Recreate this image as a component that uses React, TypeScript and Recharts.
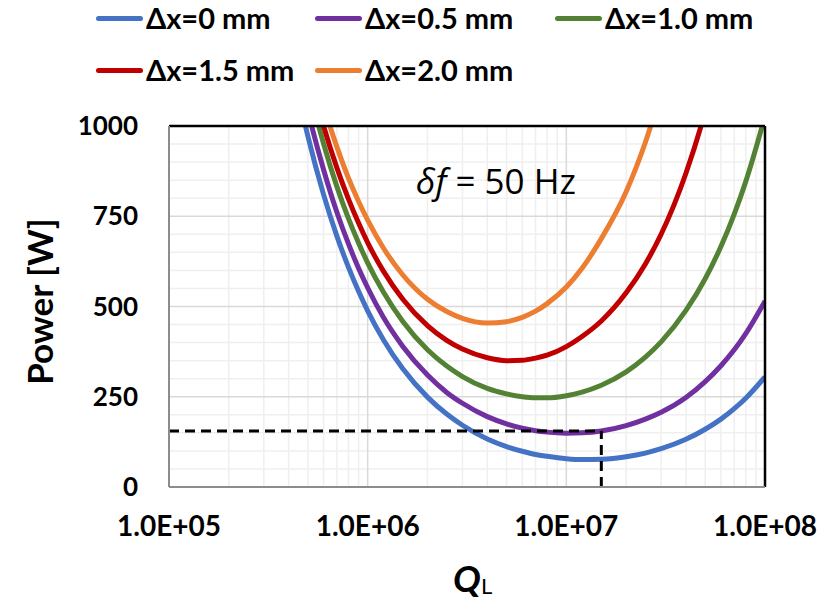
import React from 'react';
import { LineChart, Line, XAxis, YAxis, ReferenceLine } from 'recharts';

// Loaded quality factor Q_L (x values)
const qL = [4e5, 5e5, 6e5, 7e5, 8e5, 9e5, 1e6, 1.2e6, 1.5e6, 2e6, 2.5e6, 3e6, 4e6, 5e6, 6e6, 7e6, 8e6, 1e7, 1.2e7, 1.5e7, 2e7, 2.5e7, 3e7, 4e7, 5e7, 6e7, 7e7, 8e7, 1e8];
// Power [W] for each offset
const powerDx0 = [1213, 972, 810, 695, 609, 542, 488, 408, 328, 249, 202, 171, 133, 112, 99, 90, 85, 78.5, 76, 77, 84, 94, 106, 132, 160, 188, 217, 246, 305];
const powerDx05 = [1288, 1042, 879, 761, 674, 606, 552, 470, 390, 310, 262, 232, 195, 175, 163, 156, 152, 149, 150, 155, 170, 188, 207, 248, 292, 336, 380, 425, 515];
const powerDx10 = [1366, 1117, 951, 832, 744, 676, 621, 540, 459, 380, 335, 306, 273, 258, 250, 247, 247, 253, 263, 282, 319, 360, 402, 489, 577, 666, 756, 846, 1027];
const powerDx15 = [1409, 1164, 1000, 884, 798, 731, 677, 598, 521, 447, 406, 382, 358, 350, 351, 357, 365, 389, 417, 460, 538, 618, 700, 869, 1040, 1211, null, null, null];
const powerDx20 = [1462, 1218, 1056, 942, 856, 791, 739, 662, 588, 520, 486, 467, 454, 458, 470, 487, 508, 554, 606, 688, 818, 955, 1093, null, null, null, null, null, null];

const seriesNames = ['Δx=0 mm', 'Δx=0.5 mm', 'Δx=1.0 mm', 'Δx=1.5 mm', 'Δx=2.0 mm'];
const seriesKeys = ['dx0', 'dx05', 'dx10', 'dx15', 'dx20'];
const seriesColors = ['#4472C4', '#7030A0', '#548235', '#C00000', '#ED7D31'];
const seriesValues = [powerDx0, powerDx05, powerDx10, powerDx15, powerDx20];

const xTicks = [1e5, 1e6, 1e7, 1e8];
const xTickLabels = ['1.0E+05', '1.0E+06', '1.0E+07', '1.0E+08'];
const yTicks = [0, 250, 500, 750, 1000];
const xMinorGrid = [2e5, 3e5, 4e5, 5e5, 6e5, 7e5, 8e5, 9e5, 2e6, 3e6, 4e6, 5e6, 6e6, 7e6, 8e6, 9e6, 2e7, 3e7, 4e7, 5e7, 6e7, 7e7, 8e7, 9e7];
const xMajorGrid = [1e6, 1e7];
const yMinorGrid = [50, 100, 150, 200, 300, 350, 400, 450, 550, 600, 650, 700, 800, 850, 900, 950];
const yMajorGrid = [250, 500, 750];

const markerQ = 1.5e7;
const markerPower = 155;

const data = qL.map((q, i) => {
  const row: any = { q };
  seriesKeys.forEach((k, j) => {
    row[k] = seriesValues[j][i];
  });
  return row;
});

const FONT = 'Lato, "Open Sans", sans-serif';

const legendPos = [
  { left: 96, top: 1 },
  { left: 315, top: 1 },
  { left: 555, top: 1 },
  { left: 96, top: 53 },
  { left: 315, top: 53 },
];

export default function App() {
  return (
    <div style={{ position: 'absolute', left: 0, top: 0, width: 822, height: 600, background: '#fff', fontFamily: FONT }}>
      <LineChart width={822} height={600} data={data} margin={{ top: 126, right: 57, bottom: 33, left: 0 }}>
        <XAxis
          dataKey="q"
          type="number"
          scale="log"
          domain={[1e5, 1e8]}
          allowDataOverflow
          ticks={xTicks}
          tickFormatter={(v: number) => xTickLabels[xTicks.indexOf(v)] ?? ''}
          tickLine={false}
          axisLine={{ stroke: '#8c8c8c', strokeWidth: 2 }}
          tick={{ fill: '#000', fontSize: 28, fontWeight: 700, fontFamily: FONT }}
          tickMargin={23}
          height={80}
          interval={0}
          label={{
            content: (props: any) => {
              const vb = props.viewBox;
              const cx = vb.x + vb.width / 2;
              return (
                <text x={cx - 14} y={592} fontFamily={FONT} fontWeight={700} fontSize={37} fill="#000">
                  <tspan fontStyle="italic">Q</tspan>
                  <tspan fontSize={22} fontWeight={400} dy={2}>L</tspan>
                </text>
              );
            },
          }}
        />
        <YAxis
          type="number"
          domain={[0, 1000]}
          allowDataOverflow
          ticks={yTicks}
          tickLine={false}
          axisLine={{ stroke: '#8c8c8c', strokeWidth: 2 }}
          tick={{ fill: '#000', fontSize: 26, fontWeight: 700, fontFamily: FONT }}
          tickMargin={25}
          width={169}
          interval={0}
          label={{
            content: (props: any) => {
              const vb = props.viewBox;
              const cy = vb.y + vb.height / 2 - 5;
              return (
                <text
                  x={39}
                  y={cy}
                  transform={`rotate(-90, 39, ${cy})`}
                  textAnchor="middle"
                  dominantBaseline="central"
                  fontFamily={FONT}
                  fontWeight={700}
                  fontSize={35}
                  fill="#000"
                >
                  Power [W]
                </text>
              );
            },
          }}
        />
        {xMinorGrid.map((v) => (
          <ReferenceLine key={'xm' + v} x={v} stroke="#efefef" strokeWidth={1.5} />
        ))}
        {yMinorGrid.map((v) => (
          <ReferenceLine key={'ym' + v} y={v} stroke="#efefef" strokeWidth={1.5} />
        ))}
        {xMajorGrid.map((v) => (
          <ReferenceLine key={'xM' + v} x={v} stroke="#d9d9d9" strokeWidth={1.5} />
        ))}
        {yMajorGrid.map((v) => (
          <ReferenceLine key={'yM' + v} y={v} stroke="#d9d9d9" strokeWidth={1.5} />
        ))}
        {seriesKeys.map((k, j) => (
          <Line
            key={k}
            dataKey={k}
            name={seriesNames[j]}
            type="monotone"
            stroke={seriesColors[j]}
            strokeWidth={5}
            dot={false}
            activeDot={false}
            isAnimationActive={false}
          />
        ))}
        <ReferenceLine
          segment={[{ x: 1e5, y: markerPower }, { x: markerQ, y: markerPower }]}
          stroke="#000"
          strokeWidth={3}
          strokeDasharray="10 6"
        />
        <ReferenceLine
          segment={[{ x: markerQ, y: 0 }, { x: markerQ, y: markerPower }]}
          stroke="#000"
          strokeWidth={3}
          strokeDasharray="10 6"
        />
        <ReferenceLine y={1000} stroke="#000" strokeWidth={2.5} />
        <ReferenceLine x={1e8} stroke="#000" strokeWidth={2.5} />
      </LineChart>
      {seriesNames.map((name, j) => (
        <div
          key={name}
          style={{
            position: 'absolute',
            left: legendPos[j].left,
            top: legendPos[j].top,
            display: 'flex',
            alignItems: 'center',
            whiteSpace: 'nowrap',
          }}
        >
          <div style={{ width: 47, height: 5, borderRadius: 3, background: seriesColors[j], marginRight: 3 }} />
          <span style={{ fontSize: 29, fontWeight: 700, color: '#000', fontFamily: FONT, lineHeight: '34px' }}>{name}</span>
        </div>
      ))}
      <div
        style={{
          position: 'absolute',
          left: 416,
          top: 159,
          fontSize: 35,
          fontFamily: '"Open Sans", sans-serif',
          color: '#000',
          whiteSpace: 'nowrap',
          lineHeight: '44px',
        }}
      >
        <i>δf</i> = 50 Hz
      </div>
    </div>
  );
}
